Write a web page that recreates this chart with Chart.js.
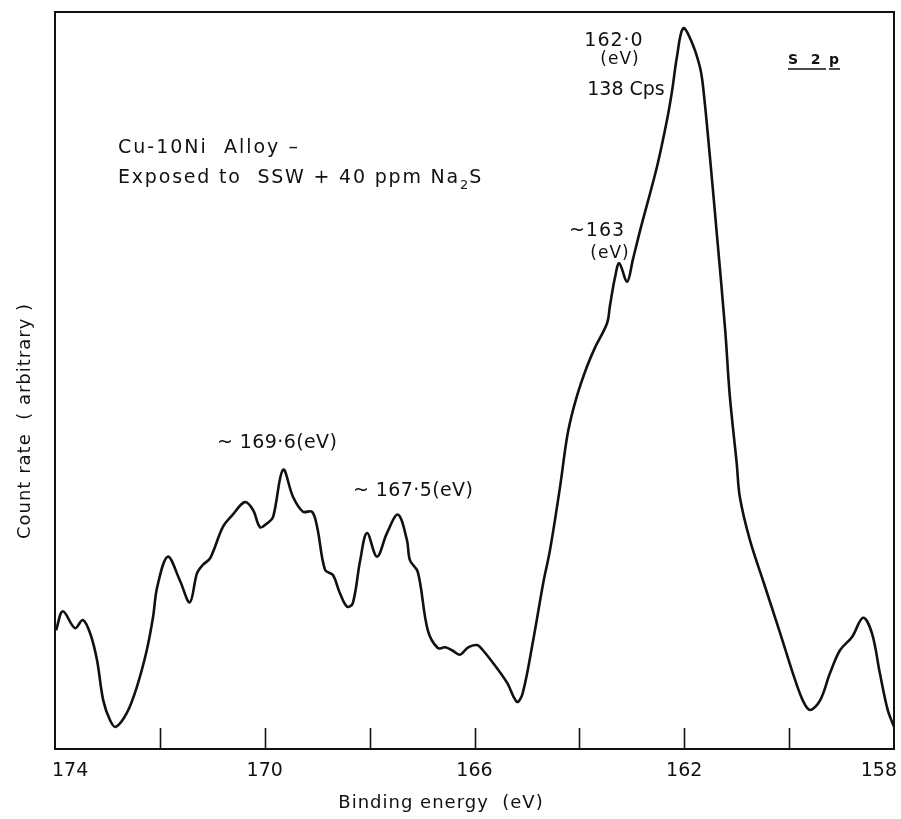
<!DOCTYPE html>
<html>
<head>
<meta charset="utf-8">
<script src="https://cdn.jsdelivr.net/npm/chart.js@4.4.1/dist/chart.umd.min.js"></script>
<style>
  body { margin: 0; background: #fff; }
  #wrap { width: 901px; height: 819px; }
</style>
</head>
<body>
<div id="wrap"><canvas id="xps"></canvas></div>
<script>
// S 2p spectrum, binding energy (eV) vs count rate (arbitrary, 0-100)
var energy = [173.98,173.85,173.62,173.47,173.33,173.20,173.08,172.95,172.84,172.63,
  172.44,172.25,172.13,172.05,171.85,171.62,171.43,171.29,171.18,171.04,
  170.80,170.61,170.38,170.22,170.09,169.94,169.84,169.65,169.46,169.27,
  169.10,169.00,168.85,168.70,168.57,168.43,168.32,168.18,168.05,167.86,
  167.67,167.46,167.29,167.23,167.08,166.89,166.70,166.56,166.43,166.28,
  166.12,165.95,165.84,165.65,165.38,165.19,165.08,164.88,164.69,164.56,
  164.37,164.22,164.05,163.86,163.70,163.47,163.42,163.32,163.24,163.09,
  162.98,162.84,162.52,162.33,162.23,162.14,162.02,161.85,161.70,161.64,
  161.51,161.38,161.22,161.13,161.00,160.94,160.75,160.50,160.17,159.93,
  159.74,159.60,159.41,159.22,159.03,158.80,158.59,158.42,158.27,158.12,158.00];
var counts = [16.1,18.7,16.4,17.5,15.7,12.1,6.6,3.9,3.0,4.9,
  8.4,13.4,17.9,22.0,26.1,22.9,19.9,23.9,25.0,25.9,
  30.1,31.8,33.5,32.4,30.1,30.7,31.5,37.9,34.2,32.2,
  32.2,30.1,24.3,23.6,21.2,19.3,19.8,25.6,29.3,26.1,
  29.3,31.8,28.4,25.6,24.0,16.1,13.7,13.8,13.4,12.8,
  13.8,14.1,13.4,11.7,9.0,6.4,7.6,14.8,22.5,27.0,
  35.5,42.9,47.8,51.8,54.5,57.8,60.0,64.0,65.9,63.4,
  66.4,70.4,79.0,85.3,89.4,93.9,97.8,95.8,92.5,89.8,
  80.3,70.0,56.9,47.8,38.8,34.2,28.4,22.9,15.7,10.3,
  6.6,5.3,6.6,10.3,13.4,15.2,17.8,15.7,10.3,5.3,3.0];
var tickMarks = [172, 170, 168, 166, 164, 162, 160];
var tickLabels = [174, 170, 166, 162, 158];

var FONT = '"DejaVu Sans", Verdana, sans-serif';
var INK = '#111';

var points = energy.map(function (e, i) { return { x: e, y: counts[i] }; });

function txt(ctx, s, x, y, size, align, spacing) {
  ctx.font = size + 'px ' + FONT;
  ctx.letterSpacing = (spacing == null ? 1 : spacing) + 'px';
  ctx.textAlign = align || 'left';
  ctx.fillText(s, x, y);
  return ctx.measureText(s).width;
}

var frame = {
  id: 'frame',
  afterDraw: function (chart) {
    var ctx = chart.ctx, a = chart.chartArea, x = chart.scales.x;
    ctx.save();
    ctx.strokeStyle = INK;
    ctx.lineWidth = 2;
    ctx.strokeRect(a.left, a.top, a.right - a.left, a.bottom - a.top);
    ctx.lineWidth = 1.6;
    tickMarks.forEach(function (v) {
      var px = Math.round(x.getPixelForValue(v)) + 0.5;
      ctx.beginPath();
      ctx.moveTo(px, a.bottom);
      ctx.lineTo(px, a.bottom - 21);
      ctx.stroke();
    });

    ctx.fillStyle = INK;
    ctx.textBaseline = 'middle';
    // tick labels, pinned to the axis via the scale
    tickLabels.forEach(function (v, i) {
      var px = x.getPixelForValue(v);
      var al = i === 0 ? 'left' : (i === tickLabels.length - 1 ? 'right' : 'center');
      txt(ctx, String(v), px + (i === 0 ? -3 : (al === 'right' ? 3 : 0)), 771, 19, al, 0);
    });

    txt(ctx, 'Cu-10Ni  Alloy \u2013', 118, 148, 19, 'left', 2);
    var w = txt(ctx, 'Exposed to  SSW + 40 ppm Na', 118, 178, 19, 'left', 1.8);
    var w2 = txt(ctx, '2', 118 + w, 186, 13, 'left', 0);
    txt(ctx, 'S', 118 + w + w2 + 1, 178, 19);

    txt(ctx, '~ 169\u00b76(eV)', 217, 443, 19, 'left', 0.4);
    txt(ctx, '~ 167\u00b75(eV)', 353, 491, 19, 'left', 0.4);
    txt(ctx, '~163', 597, 231, 19, 'center');
    txt(ctx, '(eV)', 610, 254, 17, 'center');
    txt(ctx, '162\u00b70', 614, 41, 19, 'center');
    txt(ctx, '(eV)', 620, 60, 17, 'center');
    txt(ctx, '138 Cps', 626, 90, 19, 'center', 0);

    ctx.font = 'bold 14px ' + FONT;
    ctx.letterSpacing = '1px';
    ctx.textAlign = 'left';
    ctx.fillText('S  2', 788, 60);
    ctx.fillText('p', 829, 60);
    ctx.lineWidth = 1.6;
    ctx.beginPath();
    ctx.moveTo(788, 69); ctx.lineTo(826, 69);
    ctx.moveTo(829, 69); ctx.lineTo(840, 69);
    ctx.stroke();

    // axis titles
    txt(ctx, 'Binding energy  (eV)', 441, 803, 18, 'center');
    ctx.translate(25, 421);
    ctx.rotate(-Math.PI / 2);
    txt(ctx, 'Count rate  ( arbitrary )', 0, 0, 18, 'center');
    ctx.restore();
  }
};

new Chart('xps', {
  type: 'line',
  data: {
    datasets: [{
      data: points,
      borderColor: INK,
      borderWidth: 2.6,
      pointRadius: 0,
      tension: 0.35,
      fill: false
    }]
  },
  options: {
    responsive: true,
    maintainAspectRatio: false,
    animation: false,
    layout: { padding: { left: 55, right: 7, top: 12, bottom: 0 } },
    plugins: { legend: { display: false }, tooltip: { enabled: false } },
    scales: {
      x: {
        type: 'linear',
        min: 158,
        max: 174,
        reverse: true,
        afterFit: function (s) { s.height = 70; s.paddingLeft = 0; s.paddingRight = 0; },
        border: { display: false },
        grid: { display: false, drawTicks: false },
        ticks: { display: false, stepSize: 2 }
      },
      y: {
        display: false,
        min: 0,
        max: 100
      }
    }
  },
  plugins: [frame]
});
</script>
</body>
</html>
